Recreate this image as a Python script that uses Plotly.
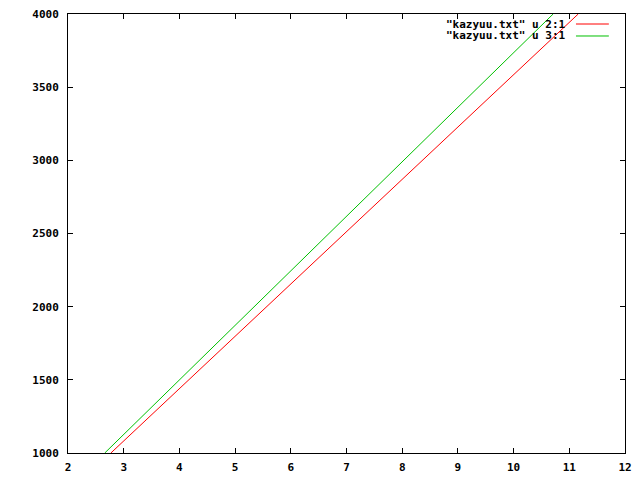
import plotly.graph_objects as go

# column 1 (y) values and columns 2, 3 (x) values
col1 = [1000, 1250, 1380, 1500, 1750, 2000, 2130, 2250, 2380, 2500, 2750, 2880, 3000, 3170, 3250, 3500, 3750, 4000]
col2 = [2.77, 3.47, 3.83, 4.17, 4.87, 5.57, 5.93, 6.27, 6.63, 6.96, 7.66, 8.02, 8.36, 8.83, 9.06, 9.76, 10.46, 11.16]
col3 = [2.66, 3.33, 3.68, 4.00, 4.67, 5.34, 5.69, 6.01, 6.36, 6.68, 7.36, 7.70, 8.03, 8.49, 8.70, 9.37, 10.04, 10.71]

names = ['"kazyuu.txt" u 2:1', '"kazyuu.txt" u 3:1']
colors = ["#ff0000", "#00c000"]

x_ticks = [2, 3, 4, 5, 6, 7, 8, 9, 10, 11, 12]
y_ticks = [1000, 1500, 2000, 2500, 3000, 3500, 4000]

FONT = dict(family="DejaVu Sans Mono", size=11, color="black", weight="bold")

fig = go.Figure()
for xs, name, c in zip([col2, col3], names, colors):
    fig.add_trace(go.Scatter(x=xs, y=col1, mode="lines", name=name,
                             line=dict(color=c, width=1), showlegend=False))

axis_common = dict(showgrid=False, zeroline=False, showline=True, linecolor="black",
                   linewidth=1, mirror="ticks", ticks="inside", ticklen=5,
                   tickcolor="black", tickwidth=1, tickfont=FONT, automargin=False)
fig.update_xaxes(range=[2, 12], tickvals=x_ticks, ticktext=[str(v) for v in x_ticks],
                 ticklabelstandoff=4, **axis_common)
fig.update_yaxes(range=[1000, 4000], tickvals=y_ticks, ticktext=[str(v) for v in y_ticks],
                 ticklabelstandoff=6, **axis_common)

# gnuplot-style key at the top right: text right-aligned, sample line to its right
row_y = [0.9772, 0.9499]
for name, c, yy in zip(names, colors, row_y):
    fig.add_annotation(xref="paper", yref="paper", x=0.8977, y=yy, text=name,
                       showarrow=False, xanchor="right", yanchor="middle", font=FONT)
    fig.add_shape(type="line", xref="paper", yref="paper", x0=0.912, x1=0.971,
                  y0=yy, y1=yy, line=dict(color=c, width=1))

fig.update_layout(width=640, height=480, margin=dict(l=68, r=15, t=14, b=27, autoexpand=False),
                  plot_bgcolor="white", paper_bgcolor="white", font=FONT)

fig.write_html("out.html", config={"displayModeBar": False},
               post_script="document.body.style.margin='0';")
